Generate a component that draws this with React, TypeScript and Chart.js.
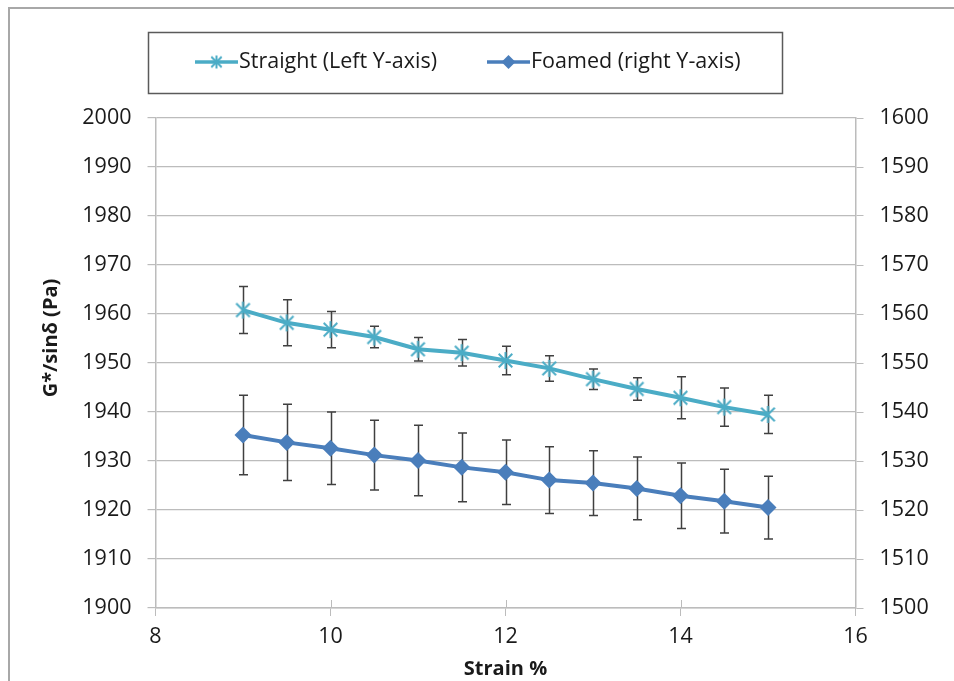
import React, { useEffect, useRef } from "react";
import { Chart, registerables } from "chart.js";

Chart.register(...registerables);

// ---- data ----
const strain = [9, 9.5, 10, 10.5, 11, 11.5, 12, 12.5, 13, 13.5, 14, 14.5, 15];
const straight = [1960.8, 1958.2, 1956.8, 1955.3, 1952.8, 1952.1, 1950.5, 1948.9, 1946.7, 1944.7, 1942.9, 1941.0, 1939.5];
const straightErr = [4.8, 4.7, 3.7, 2.2, 2.4, 2.7, 2.9, 2.6, 2.1, 2.3, 4.3, 3.9, 3.9];
const foamed = [1535.3, 1533.8, 1532.6, 1531.2, 1530.1, 1528.7, 1527.7, 1526.1, 1525.5, 1524.4, 1522.9, 1521.8, 1520.5];
const foamedErr = [8.1, 7.8, 7.4, 7.1, 7.2, 7.0, 6.6, 6.8, 6.6, 6.4, 6.7, 6.5, 6.4];
const seriesNames = ["Straight (Left Y-axis)", "Foamed (right Y-axis)"];
const xRange = [8, 16];
const xStep = 2;
const leftRange = [1900, 2000];
const rightRange = [1500, 1600];
const yStep = 10;
const xTitle = "Strain %";
const yTitle = "G*/sinδ (Pa)";

const FONT = "'Open Sans', Lato, sans-serif";
const C_STRAIGHT = "#4bacc6";
const C_FOAMED = "#4a7ebb";
const GRID = "#bcbcbc";
const TEXT = "#1a1a1a";

function makeAsterisk(color: string, size: number) {
  const c = document.createElement("canvas");
  c.width = size;
  c.height = size;
  const ctx = c.getContext("2d")!;
  ctx.strokeStyle = color;
  ctx.lineWidth = 2;
  const m = size / 2;
  const r = size / 2 - 1;
  const d = r * 0.8;
  ctx.beginPath();
  ctx.moveTo(m, m - r);
  ctx.lineTo(m, m + r);
  ctx.moveTo(m - d, m - d);
  ctx.lineTo(m + d, m + d);
  ctx.moveTo(m + d, m - d);
  ctx.lineTo(m - d, m + d);
  ctx.stroke();
  return c;
}

function drawDiamond(ctx: CanvasRenderingContext2D, x: number, y: number, r: number, color: string) {
  ctx.beginPath();
  ctx.moveTo(x, y - r);
  ctx.lineTo(x + r, y);
  ctx.lineTo(x, y + r);
  ctx.lineTo(x - r, y);
  ctx.closePath();
  ctx.fillStyle = color;
  ctx.fill();
}

export default function App() {
  const ref = useRef<HTMLCanvasElement | null>(null);

  useEffect(() => {
    if (!ref.current) return;
    const star = makeAsterisk(C_STRAIGHT, 19);
    const legendStar = makeAsterisk(C_STRAIGHT, 15);
    const errs = [straightErr, foamedErr];

    const decor = {
      id: "decor",
      beforeDraw(chart: any) {
        const ctx = chart.ctx;
        ctx.save();
        ctx.fillStyle = "#ffffff";
        ctx.fillRect(0, 0, chart.width, chart.height);
        ctx.strokeStyle = "#a8a8a8";
        ctx.lineWidth = 2;
        ctx.beginPath();
        ctx.moveTo(9, chart.height);
        ctx.lineTo(9, 8);
        ctx.lineTo(chart.width, 8);
        ctx.stroke();
        ctx.restore();
      },
      beforeDatasetsDraw(chart: any) {
        const ctx = chart.ctx;
        const xs = chart.scales.x;
        ctx.save();
        ctx.strokeStyle = "#404040";
        ctx.lineWidth = 1.5;
        chart.data.datasets.forEach((ds: any, i: number) => {
          const ys = chart.scales[ds.yAxisID];
          ds.data.forEach((p: any, j: number) => {
            const px = Math.round(xs.getPixelForValue(p.x)) + 0.5;
            const t = ys.getPixelForValue(p.y + errs[i][j]);
            const b = ys.getPixelForValue(p.y - errs[i][j]);
            ctx.beginPath();
            ctx.moveTo(px, t);
            ctx.lineTo(px, b);
            ctx.moveTo(px - 4.5, t);
            ctx.lineTo(px + 4.5, t);
            ctx.moveTo(px - 4.5, b);
            ctx.lineTo(px + 4.5, b);
            ctx.stroke();
          });
        });
        ctx.restore();
      },
      afterDraw(chart: any) {
        const ctx = chart.ctx;
        const xs = chart.scales.x;
        const area = chart.chartArea;
        ctx.save();
        // inner x tick marks
        ctx.strokeStyle = GRID;
        ctx.lineWidth = 1;
        for (let v = xRange[0] + xStep; v < xRange[1]; v += xStep) {
          const px = Math.round(xs.getPixelForValue(v)) + 0.5;
          ctx.beginPath();
          ctx.moveTo(px, area.bottom);
          ctx.lineTo(px, area.bottom - 8);
          ctx.stroke();
        }
        // y title
        ctx.save();
        ctx.translate(51, 338);
        ctx.rotate(-Math.PI / 2);
        ctx.font = `bold 20px ${FONT}`;
        ctx.fillStyle = TEXT;
        ctx.textAlign = "center";
        ctx.textBaseline = "middle";
        ctx.fillText(yTitle, 0, 0);
        ctx.restore();
        // legend
        ctx.strokeStyle = "#5a5a5a";
        ctx.lineWidth = 1.5;
        ctx.strokeRect(148.5, 32.5, 634, 61);
        const ly = 62;
        ctx.lineWidth = 3.5;
        ctx.strokeStyle = C_STRAIGHT;
        ctx.beginPath();
        ctx.moveTo(195, ly);
        ctx.lineTo(238, ly);
        ctx.stroke();
        ctx.drawImage(legendStar, 216.5 - legendStar.width / 2, ly - legendStar.height / 2);
        ctx.strokeStyle = C_FOAMED;
        ctx.beginPath();
        ctx.moveTo(487, ly);
        ctx.lineTo(530, ly);
        ctx.stroke();
        drawDiamond(ctx, 508.5, ly, 7, C_FOAMED);
        ctx.font = `21.5px ${FONT}`;
        ctx.fillStyle = TEXT;
        ctx.textAlign = "left";
        ctx.textBaseline = "middle";
        ctx.fillText(seriesNames[0], 239, ly);
        ctx.fillText(seriesNames[1], 531, ly);
        ctx.restore();
      },
    };

    const tickFont = { family: FONT, size: 21.5 };
    const plain = (v: any) => String(v);

    const chart = new Chart(ref.current, {
      type: "line",
      data: {
        datasets: [
          {
            label: seriesNames[0],
            data: strain.map((x, i) => ({ x, y: straight[i] })),
            yAxisID: "y",
            borderColor: C_STRAIGHT,
            backgroundColor: C_STRAIGHT,
            borderWidth: 4,
            pointStyle: star as any,
            pointRadius: 9,
            tension: 0,
          },
          {
            label: seriesNames[1],
            data: strain.map((x, i) => ({ x, y: foamed[i] })),
            yAxisID: "y1",
            borderColor: C_FOAMED,
            backgroundColor: C_FOAMED,
            borderWidth: 4,
            pointStyle: "rectRot",
            pointRadius: 8.5,
            pointBorderWidth: 0,
            tension: 0,
          },
        ],
      },
      options: {
        responsive: false,
        animation: false,
        layout: { padding: { top: 118, left: 0, right: 0, bottom: 0 } },
        plugins: {
          legend: { display: false },
          tooltip: { enabled: false },
        },
        scales: {
          x: {
            type: "linear",
            min: xRange[0],
            max: xRange[1],
            ticks: { stepSize: xStep, font: tickFont, color: TEXT, padding: 8, callback: plain },
            grid: { drawOnChartArea: false, color: GRID, tickLength: 8 },
            border: { color: GRID, width: 1.5 },
            title: {
              display: true,
              text: xTitle,
              font: { family: FONT, size: 20, weight: "bold" },
              color: TEXT,
              padding: { top: 0, bottom: 0 },
            },
            afterFit: (s: any) => {
              s.height = 73;
            },
          },
          y: {
            position: "left",
            min: leftRange[0],
            max: leftRange[1],
            ticks: { stepSize: yStep, font: tickFont, color: TEXT, padding: 16, callback: plain },
            grid: { color: GRID, tickLength: 8, lineWidth: 1.2 },
            border: { color: GRID, width: 1.5 },
            afterFit: (s: any) => {
              s.width = 155.5;
            },
          },
          y1: {
            position: "right",
            min: rightRange[0],
            max: rightRange[1],
            ticks: { stepSize: yStep, font: tickFont, color: TEXT, padding: 16, callback: plain },
            grid: { drawOnChartArea: false, color: GRID, tickLength: 8 },
            border: { color: GRID, width: 1.5 },
            afterFit: (s: any) => {
              s.width = 98.5;
            },
          },
        },
      } as any,
      plugins: [decor],
    });
    return () => chart.destroy();
  }, []);

  return (
    <div style={{ position: "fixed", left: 0, top: 0, width: 954, height: 681, background: "#fff" }}>
      <canvas ref={ref} width={954} height={681} style={{ display: "block", width: 954, height: 681 }} />
    </div>
  );
}
